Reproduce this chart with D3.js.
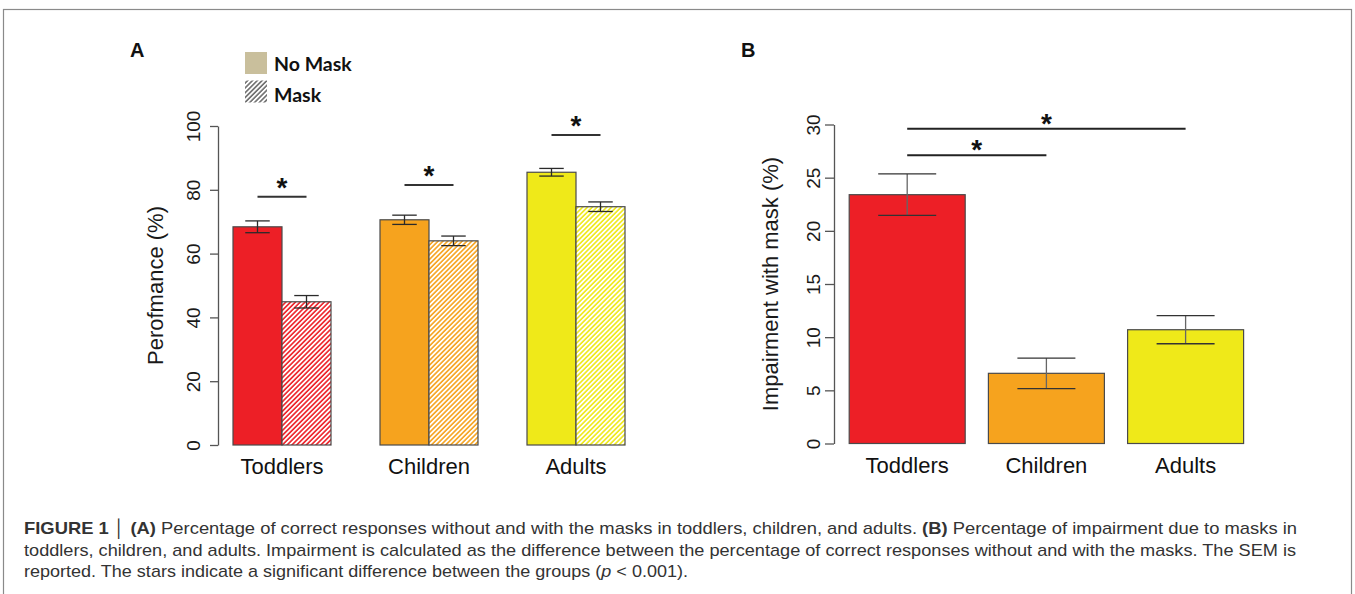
<!DOCTYPE html>
<html>
<head>
<meta charset="utf-8">
<script src="https://cdn.jsdelivr.net/npm/d3@7"></script>
<style>
  html, body { margin: 0; padding: 0; background: #fff; }
  svg { display: block; }
</style>
</head>
<body>
<script>
// Performance (%) per age group, without and with a face mask
const groups = ["Toddlers", "Children", "Adults"];
const conditions = ["No Mask", "Mask"];
const perfNoMask = [68.4, 70.6, 85.5];
const perfMask = [44.9, 64.0, 74.7];
const semNoMask = [1.85, 1.45, 1.2];
const semMask = [1.95, 1.5, 1.5];
// height of the significance bar drawn over each pair
const sigPairA = [77.8, 81.5, 97.2];

// Impairment with mask (%) per age group
const impairment = [23.4, 6.6, 10.7];
const semImpairment = [1.95, 1.43, 1.32];
// between-group comparisons: [first group, second group, bar height]
const sigGroupsB = [[0, 1, 27.1], [0, 2, 29.6]];

const ticksA = [0, 20, 40, 60, 80, 100];
const ticksB = [0, 5, 10, 15, 20, 25, 30];

const groupColors = ["#ed1f26", "#f6a31e", "#efe919"];
const noMaskSwatch = "#c9bf9c";

const captionLines = [
  [["FIGURE 1", true], [" \u2502 ", false], ["(A)", true], [" Percentage of correct responses without and with the masks in toddlers, children, and adults. ", false], ["(B)", true], [" Percentage of impairment due to masks in", false]],
  [["toddlers, children, and adults. Impairment is calculated as the difference between the percentage of correct responses without and with the masks. The SEM is", false]],
  [["reported. The stars indicate a significant difference between the groups (", false], ["p", false, true], [" < 0.001).", false]]
];
const captionWidths = [1273, 1272, 664];

const W = 1355, H = 594;
const svg = d3.select("body").append("svg").attr("width", W).attr("height", H);
const FONT = "'Liberation Sans', Arial, Helvetica, sans-serif";

// outer frame
svg.append("rect").attr("x", 3.5).attr("y", 9.5).attr("width", 1348).attr("height", 600)
  .attr("fill", "none").attr("stroke", "#8a8a8a").attr("stroke-width", 1.2);

// diagonal hatch fills
const defs = svg.append("defs");
function hatch(id, color) {
  const p = defs.append("pattern").attr("id", id).attr("patternUnits", "userSpaceOnUse")
    .attr("width", 3.4).attr("height", 3.4).attr("patternTransform", "rotate(45)");
  p.append("rect").attr("width", 3.4).attr("height", 3.4).attr("fill", "#fff");
  p.append("line").attr("x1", 0.9).attr("y1", 0).attr("x2", 0.9).attr("y2", 3.4)
    .attr("stroke", color).attr("stroke-width", 1.6);
}
groupColors.forEach((c, i) => hatch("hatch" + i, c));
hatch("hatchLegend", "#6d6d6d");

// ---------- Panel A ----------
const yA = d3.scaleLinear().domain([0, 100]).range([445, 126]);
const xA = d3.scaleLinear().domain([0, 9]).range([184, 625]);   // one unit = one bar
const unitA = xA(1) - xA(0);
const gA = svg.append("g");

const axA = gA.append("g").attr("transform", "translate(218,0)")
  .call(d3.axisLeft(yA).tickValues(ticksA).tickSize(8).tickSizeOuter(0).tickPadding(0));
axA.select(".domain").attr("stroke", "#555").attr("stroke-width", 1.3);
axA.selectAll(".tick line").attr("stroke", "#555").attr("stroke-width", 1.3);
axA.selectAll(".tick text").attr("transform", "rotate(-90)").attr("x", 0).attr("y", -18)
  .attr("dy", 0).attr("text-anchor", "middle").attr("font-family", FONT).attr("font-size", 19).attr("fill", "#1a1a1a");

gA.append("text").attr("transform", `translate(163,${(yA(0) + yA(100)) / 2}) rotate(-90)`)
  .attr("text-anchor", "middle").attr("font-family", FONT).attr("font-size", 22).attr("fill", "#1a1a1a")
  .text("Perofmance (%)");

const barsA = [];
groups.forEach((g, i) => {
  barsA.push({ g: i, s: 0, v: perfNoMask[i], e: semNoMask[i] });
  barsA.push({ g: i, s: 1, v: perfMask[i], e: semMask[i] });
});
const slot = d => 1 + 3 * d.g + d.s;

gA.selectAll("rect.bar").data(barsA).join("rect").attr("class", "bar")
  .attr("x", d => xA(slot(d))).attr("width", unitA)
  .attr("y", d => yA(d.v)).attr("height", d => yA(0) - yA(d.v))
  .attr("fill", d => d.s === 0 ? groupColors[d.g] : `url(#hatch${d.g})`)
  .attr("stroke", "#4a4a4a").attr("stroke-width", 1.2);

// SEM whiskers
const errA = gA.selectAll("g.err").data(barsA).join("g").attr("class", "err")
  .attr("stroke", "#2a2a2a").attr("stroke-width", 1.3);
errA.append("line").attr("x1", d => xA(slot(d) + 0.5)).attr("x2", d => xA(slot(d) + 0.5))
  .attr("y1", d => yA(d.v - d.e)).attr("y2", d => yA(d.v + d.e));
errA.append("line").attr("x1", d => xA(slot(d) + 0.25)).attr("x2", d => xA(slot(d) + 0.75))
  .attr("y1", d => yA(d.v + d.e)).attr("y2", d => yA(d.v + d.e));
errA.append("line").attr("x1", d => xA(slot(d) + 0.25)).attr("x2", d => xA(slot(d) + 0.75))
  .attr("y1", d => yA(d.v - d.e)).attr("y2", d => yA(d.v - d.e));

// significance bars
groups.forEach((g, i) => {
  const x1 = xA(1 + 3 * i + 0.5), x2 = xA(1 + 3 * i + 1.5), y = yA(sigPairA[i]);
  gA.append("line").attr("x1", x1).attr("x2", x2).attr("y1", y).attr("y2", y)
    .attr("stroke", "#333").attr("stroke-width", 2);
  gA.append("text").attr("x", (x1 + x2) / 2).attr("y", y).attr("text-anchor", "middle")
    .attr("font-family", FONT).attr("font-weight", "bold").attr("font-size", 28).attr("fill", "#111").text("*");
});

// group labels
gA.selectAll("text.grp").data(groups).join("text").attr("class", "grp")
  .attr("x", (d, i) => xA(2 + 3 * i)).attr("y", 474).attr("text-anchor", "middle")
  .attr("font-family", FONT).attr("font-size", 22).attr("fill", "#111").text(d => d);

// legend
const leg = gA.append("g");
conditions.forEach((c, i) => {
  leg.append("rect").attr("x", 245).attr("y", 52 + i * 28.5).attr("width", 22).attr("height", 22)
    .attr("fill", i === 0 ? noMaskSwatch : "url(#hatchLegend)");
  leg.append("text").attr("x", 274).attr("y", 71 + i * 31)
    .attr("font-family", "Lato, 'Open Sans', sans-serif").attr("font-weight", "bold").attr("font-size", 19.5)
    .attr("fill", "#111").text(c);
});

svg.append("text").attr("x", 130).attr("y", 57).attr("font-family", FONT).attr("font-weight", "bold")
  .attr("font-size", 20).attr("fill", "#111").text("A");

// ---------- Panel B ----------
const yB = d3.scaleLinear().domain([0, 30]).range([443.5, 124.5]);
const xB = d3.scaleLinear().domain([0, 3.6]).range([826, 1243.6]);
const unitB = xB(1) - xB(0);
const gB = svg.append("g");

const axB = gB.append("g").attr("transform", "translate(834,0)")
  .call(d3.axisLeft(yB).tickValues(ticksB).tickSize(9).tickSizeOuter(0).tickPadding(0));
axB.select(".domain").attr("stroke", "#555").attr("stroke-width", 1.3);
axB.selectAll(".tick line").attr("stroke", "#555").attr("stroke-width", 1.3);
axB.selectAll(".tick text").attr("transform", "rotate(-90)").attr("x", 0).attr("y", -14)
  .attr("dy", 0).attr("text-anchor", "middle").attr("font-family", FONT).attr("font-size", 19).attr("fill", "#1a1a1a");

gB.append("text").attr("transform", `translate(778,${(yB(0) + yB(30)) / 2}) rotate(-90)`)
  .attr("text-anchor", "middle").attr("font-family", FONT).attr("font-size", 22).attr("fill", "#1a1a1a")
  .text("Impairment with mask (%)");

const barsB = impairment.map((v, i) => ({ i, v, e: semImpairment[i] }));
const startB = i => 0.2 + 1.2 * i;

gB.selectAll("rect.bar").data(barsB).join("rect").attr("class", "bar")
  .attr("x", d => xB(startB(d.i))).attr("width", unitB)
  .attr("y", d => yB(d.v)).attr("height", d => yB(0) - yB(d.v))
  .attr("fill", d => groupColors[d.i]).attr("stroke", "#4a4a4a").attr("stroke-width", 1.2);

const errB = gB.selectAll("g.err").data(barsB).join("g").attr("class", "err")
  .attr("stroke", "#333").attr("stroke-width", 1.3);
errB.append("line").attr("x1", d => xB(startB(d.i) + 0.5)).attr("x2", d => xB(startB(d.i) + 0.5))
  .attr("y1", d => yB(d.v - d.e)).attr("y2", d => yB(d.v + d.e)).attr("stroke", "#666");
errB.append("line").attr("x1", d => xB(startB(d.i) + 0.25)).attr("x2", d => xB(startB(d.i) + 0.75))
  .attr("y1", d => yB(d.v + d.e)).attr("y2", d => yB(d.v + d.e));
errB.append("line").attr("x1", d => xB(startB(d.i) + 0.25)).attr("x2", d => xB(startB(d.i) + 0.75))
  .attr("y1", d => yB(d.v - d.e)).attr("y2", d => yB(d.v - d.e));

sigGroupsB.forEach(([a, b, h]) => {
  const x1 = xB(startB(a) + 0.5), x2 = xB(startB(b) + 0.5), y = yB(h);
  gB.append("line").attr("x1", x1).attr("x2", x2).attr("y1", y).attr("y2", y)
    .attr("stroke", "#222").attr("stroke-width", 2);
  gB.append("text").attr("x", (x1 + x2) / 2).attr("y", y + 4).attr("text-anchor", "middle")
    .attr("font-family", FONT).attr("font-weight", "bold").attr("font-size", 28).attr("fill", "#111").text("*");
});

gB.selectAll("text.grp").data(groups).join("text").attr("class", "grp")
  .attr("x", (d, i) => xB(startB(i) + 0.5)).attr("y", 473).attr("text-anchor", "middle")
  .attr("font-family", FONT).attr("font-size", 22).attr("fill", "#111").text(d => d);

svg.append("text").attr("x", 741).attr("y", 57).attr("font-family", FONT).attr("font-weight", "bold")
  .attr("font-size", 20).attr("fill", "#111").text("B");

// ---------- Caption ----------
const cap = svg.append("g").attr("font-family", FONT).attr("font-size", 17).attr("fill", "#333");
captionLines.forEach((parts, li) => {
  const t = cap.append("text").attr("x", 24).attr("y", 534 + li * 21.5)
    .attr("textLength", captionWidths[li]).attr("lengthAdjust", "spacingAndGlyphs");
  parts.forEach(([s, bold, ital]) => {
    t.append("tspan").attr("font-weight", bold ? "bold" : "normal")
      .attr("font-style", ital ? "italic" : "normal").text(s);
  });
});
</script>
</body>
</html>
